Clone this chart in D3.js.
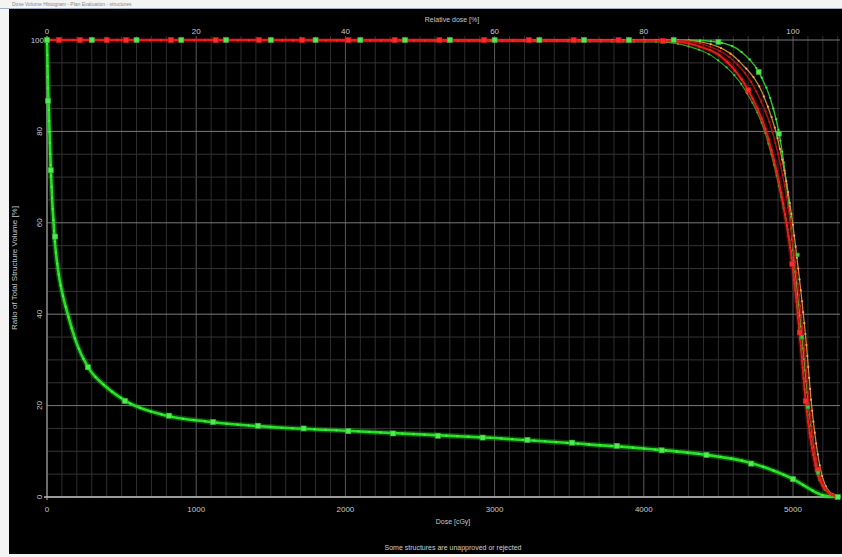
<!DOCTYPE html>
<html>
<head>
<meta charset="utf-8">
<script src="https://cdn.jsdelivr.net/npm/d3@7"></script>
<style>
  body { margin: 0; background: #fff; }
  svg { display: block; }
  text { font-family: "Liberation Sans", "DejaVu Sans", sans-serif; fill: #c8c8c8; }
</style>
</head>
<body>
<div id="dvh"></div>
<script>
// axis ticks
const doseTicks = [0, 1000, 2000, 3000, 4000, 5000];
const relTicks = [0, 20, 40, 60, 80, 100];
const volTicks = [0, 20, 40, 60, 80, 100];

// DVH curves: [dose cGy, volume %]
const ptvOuter = [[0,100],[4300,100],[4500,99.5],[4650,97.5],[4770,93],[4850,87],[4910,79],[4965,66],[5010,51],[5060,35],[5105,20],[5160,7],[5220,1.8],[5300,0]];
const ptvInner = [[0,100],[4100,99.6],[4300,98.6],[4500,95.5],[4680,89],[4820,79],[4925,65],[4990,53],[5040,37],[5090,20],[5160,5.5],[5230,1],[5300,0]];
const ptvRed = [[0,100],[4150,99.8],[4350,98.8],[4550,95.5],[4700,89],[4830,79],[4930,65],[4995,51],[5045,36],[5085,21],[5150,7],[5220,1.5],[5300,0]];
const ptvDarkRed = [[0,100],[4250,99.8],[4450,98.5],[4600,95.5],[4750,89],[4870,79],[4960,65],[5020,50],[5070,35],[5110,20],[5170,6],[5240,1],[5310,0]];
const ptvOrange = [[0,100],[4300,99.8],[4500,98.5],[4650,95],[4800,88],[4900,78],[4980,64],[5035,50],[5085,35],[5125,20],[5185,6],[5250,1],[5320,0]];
const oarGreen = [[0,100],[5,92],[12,85],[25,72],[50,57],[75,49.5],[100,45],[135,40.5],[200,33.5],[275,28.4],[400,24],[550,20.6],[775,18],[1100,16.4],[1550,15.2],[2000,14.5],[2500,13.7],[3000,12.9],[3500,11.8],[4000,10.6],[4400,9.3],[4700,7.6],[4850,6],[5000,3.9],[5100,2],[5200,0.4],[5300,0]];

// square markers
const greenMarks = [[300,100],[600,100],[900,100],[1200,100],[1500,100],[1800,100],[2100,100],[2400,100],[2700,100],[3000,100],[3300,100],[3600,100],[3900,100],[4200,100],[4500,99.6],[4770,93],[4905,79.5]];
const redMarks = [[80,100],[220,100],[400,100],[530,100],[830,100],[1130,100],[1420,100],[1710,100],[2020,100],[2330,100],[2630,100],[2930,100],[3230,100],[3530,100],[3830,100],[4130,99.8],[4700,89],[4995,51],[5045,36],[5085,21],[5165,6]];
const innerMarks = [[5030,53],[5060,35],[5100,19.7],[5168,5.3]];
const oarMarks = [[0,100],[7,86.7],[25,71.5],[54,57],[275,28.4],[522,21],[818,17.8],[1113,16.4],[1414,15.6],[1720,15],[2020,14.4],[2320,13.9],[2620,13.4],[2920,13],[3220,12.5],[3520,11.9],[3820,11.2],[4120,10.2],[4420,9.2],[4720,7.3],[5000,3.9],[5300,0]];

const width = 842, height = 557;

const x = d3.scaleLinear().domain([0, 5000]).range([47, 793]);
const xRel = d3.scaleLinear().domain([0, 100]).range([47, 793]);
const y = d3.scaleLinear().domain([0, 100]).range([497, 40]);
const xMax = x.invert(840);

let svg = d3.select("#dvh").append("svg")
    .attr("width", width)
    .attr("height", height);

// window frame
svg.append("rect").attr("width", width).attr("height", height).attr("fill", "#f4f4f4");
svg.append("rect").attr("x", 9).attr("y", 9).attr("width", width - 9).attr("height", 545).attr("fill", "#000");
svg.append("line").attr("x1", 0).attr("x2", width).attr("y1", 8.5).attr("y2", 8.5).attr("stroke", "#9fb0c4");
svg.append("text").attr("x", 12).attr("y", 6).attr("font-size", 5).style("fill", "#888")
    .text("Dose Volume Histogram - Plan Evaluation - structures");

let grid = svg.append("g");

// minor vertical grid every 100 cGy
grid.selectAll(".vminor").data(d3.range(0, xMax, 100)).enter().append("line")
    .attr("x1", d => x(d)).attr("x2", d => x(d))
    .attr("y1", 36).attr("y2", y(0))
    .attr("stroke", d => d % 1000 == 0 ? "#5a5a5a" : "#2e2e2e")
    .attr("stroke-width", 1);

// horizontal grid every 5 %
grid.selectAll(".hminor").data(d3.range(0, 101, 5)).enter().append("line")
    .attr("x1", x(0)).attr("x2", 840)
    .attr("y1", d => y(d)).attr("y2", d => y(d))
    .attr("stroke", d => d % 20 == 0 ? "#7a7a7a" : "#333")
    .attr("stroke-width", 1);

// axis lines
svg.append("line").attr("x1", x(0)).attr("x2", x(0)).attr("y1", 36).attr("y2", y(0) + 3)
    .attr("stroke", "#aaa");
svg.append("line").attr("x1", x(0) - 3).attr("x2", 840).attr("y1", y(0)).attr("y2", y(0))
    .attr("stroke", "#bbb").attr("stroke-width", 1.3);

// bottom dose axis labels
svg.selectAll(".xt").data(doseTicks).enter().append("text")
    .attr("x", d => x(d)).attr("y", 512)
    .attr("text-anchor", "middle").attr("font-size", 8)
    .text(d => d);

// top relative dose labels
svg.selectAll(".rt").data(relTicks).enter().append("text")
    .attr("x", d => xRel(d)).attr("y", 34)
    .attr("text-anchor", "middle").attr("font-size", 8)
    .text(d => d);

// volume labels, rotated except the top one
svg.selectAll(".yt").data(volTicks).enter().append("text")
    .attr("font-size", 8)
    .attr("text-anchor", d => d == 100 ? "end" : "middle")
    .attr("transform", d => d == 100 ? `translate(44,${y(d) + 3})` : `translate(42,${y(d)}) rotate(-90)`)
    .text(d => d);

svg.append("text").attr("x", 452).attr("y", 22).attr("text-anchor", "middle").attr("font-size", 7)
    .text("Relative dose [%]");
svg.append("text").attr("x", 453).attr("y", 524).attr("text-anchor", "middle").attr("font-size", 7)
    .text("Dose [cGy]");
svg.append("text").attr("transform", "translate(17,268) rotate(-90)").attr("text-anchor", "middle")
    .attr("font-size", 8).text("Ratio of Total Structure Volume [%]");
svg.append("text").attr("x", 453).attr("y", 550).attr("text-anchor", "middle").attr("font-size", 7)
    .style("fill", "#d0d0d0")
    .text("Some structures are unapproved or rejected");

// curves
let line = d3.line().x(d => x(d[0])).y(d => y(d[1])).curve(d3.curveMonotoneX);
let curves = svg.append("g");

let series = [
    {data: oarGreen, color: "#2bdc2b", w: 2.6, glow: true},
    {data: ptvOuter, color: "#2fc42f", w: 1.4},
    {data: ptvInner, color: "#27a827", w: 1.1},
    {data: ptvOrange, color: "#c9893a", w: 1.3},
    {data: ptvDarkRed, color: "#a81010", w: 1.5},
    {data: ptvRed, color: "#e41c1c", w: 1.8, glow: true}
];

series.forEach(s => {
    if (s.glow) {
        curves.append("path").attr("d", line(s.data)).attr("fill", "none")
            .attr("stroke", s.color).attr("stroke-opacity", 0.3).attr("stroke-width", s.w + 3);
    }
    let p = curves.append("path").attr("d", line(s.data)).attr("fill", "none")
        .attr("stroke", s.color).attr("stroke-width", s.w);
    // small dots the program draws along each curve
    let node = p.node(), len = node.getTotalLength();
    let dots = d3.range(4, len, 11).map(l => node.getPointAtLength(l));
    curves.selectAll(null).data(dots).enter().append("circle")
        .attr("cx", d => d.x).attr("cy", d => d.y).attr("r", 1.1)
        .attr("fill", d3.color(s.color).brighter(0.6));
});

function squares(data, color, size) {
    svg.append("g").selectAll("rect").data(data).enter().append("rect")
        .attr("x", d => x(d[0]) - size / 2).attr("y", d => y(d[1]) - size / 2)
        .attr("width", size).attr("height", size)
        .attr("fill", color).attr("stroke", d3.color(color).darker(0.8)).attr("stroke-width", 0.6);
}

squares(oarMarks, "#4cf04c", 5);
squares(redMarks, "#ff2a2a", 5);
squares(greenMarks, "#52e852", 5);
squares(innerMarks, "#3ccf3c", 3.5);
</script>
</body>
</html>
